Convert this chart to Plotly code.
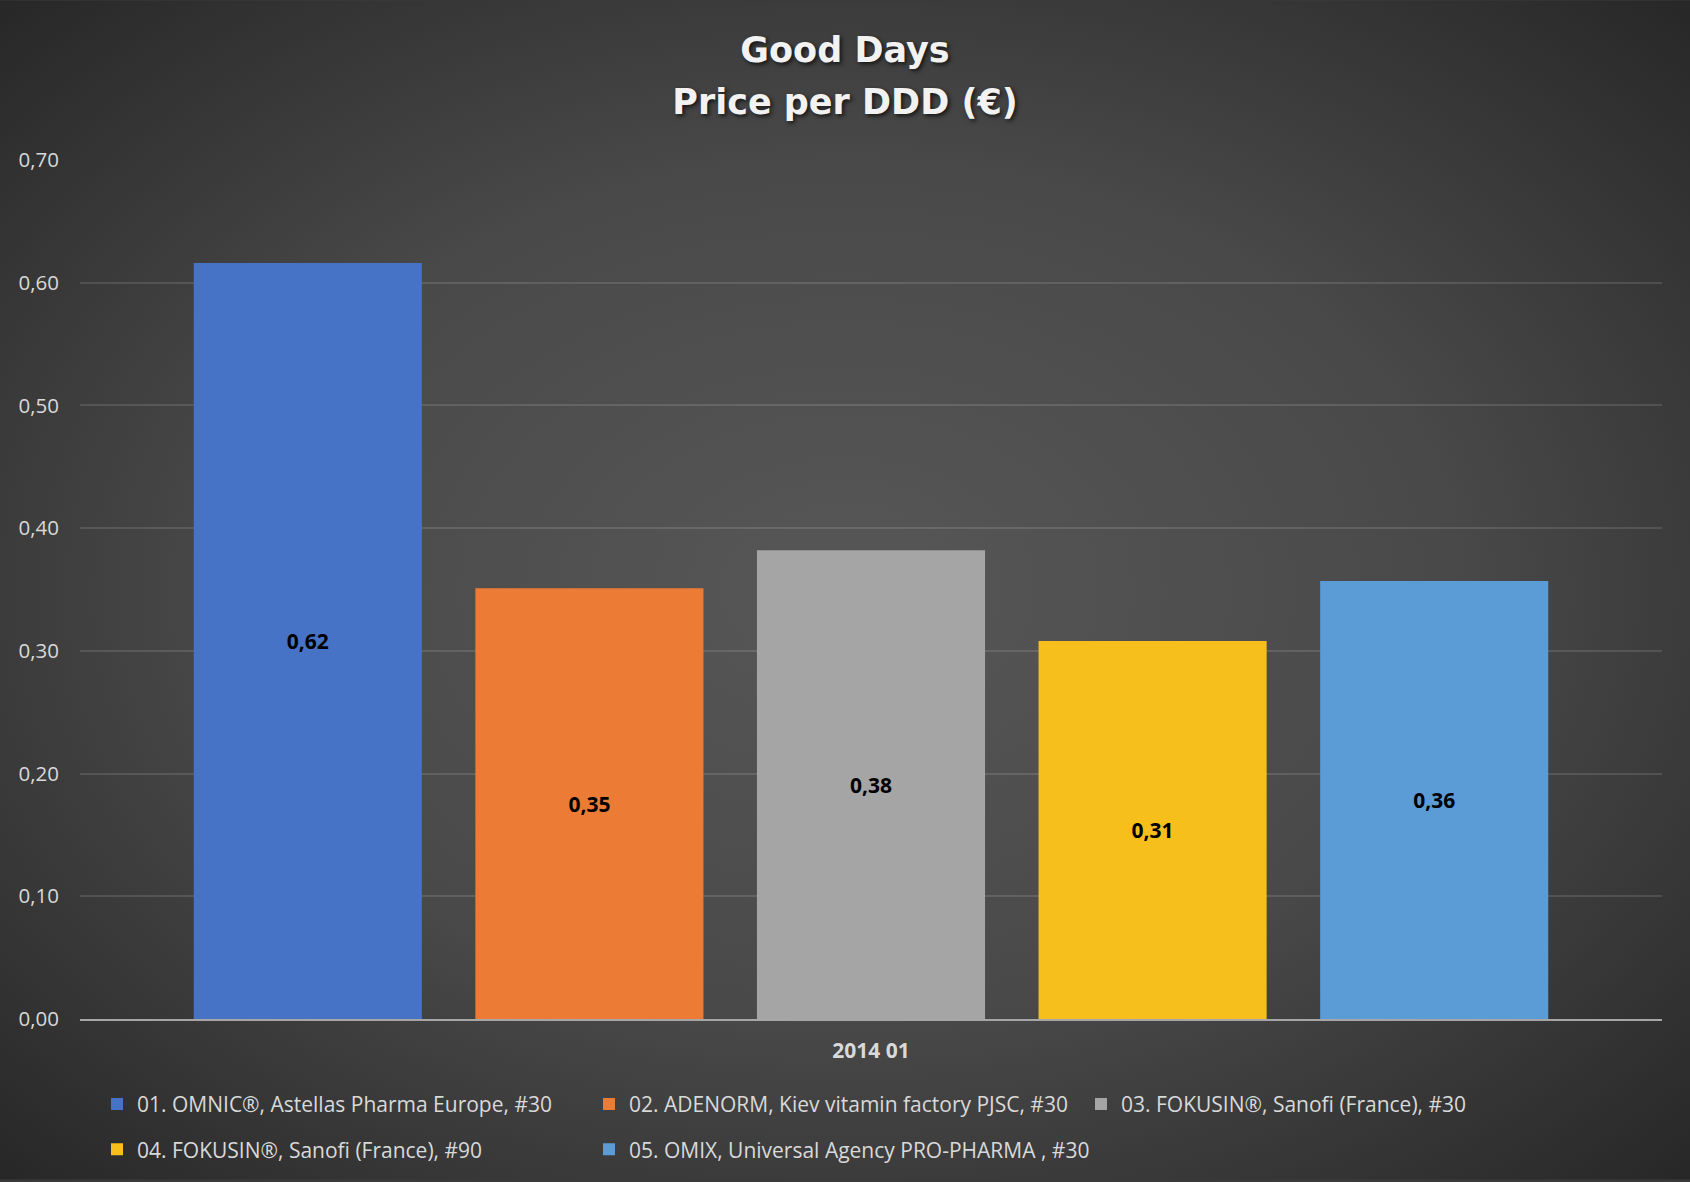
import base64
import plotly.graph_objects as go

# ---------------- data ----------------
categories = ["2014 01"]
series_names = [
    "01. OMNIC®, Astellas Pharma Europe, #30",
    "02. ADENORM, Kiev vitamin factory PJSC, #30",
    "03. FOKUSIN®, Sanofi (France), #30",
    "04. FOKUSIN®, Sanofi (France), #90",
    "05. OMIX, Universal Agency PRO-PHARMA , #30",
]
values = [0.616, 0.351, 0.382, 0.308, 0.357]
colors = ["#4673c6", "#ec7c35", "#a5a5a5", "#f7bf1c", "#5b9bd6"]
title_lines = ["Good Days", "Price per DDD (€)"]

W, H = 1690, 1182
ML, MR, MT, MB = 80, 28, 160, 161
PW, PH = W - ML - MR, H - MT - MB

# radial background
svg = (
    f"<svg xmlns='http://www.w3.org/2000/svg' width='{W}' height='{H}' "
    f"viewBox='0 0 {W} {H}' preserveAspectRatio='none'>"
    "<defs><radialGradient id='g' cx='0.5' cy='0.5' r='0.72'>"
    "<stop offset='0' stop-color='#575757'/>"
    "<stop offset='0.5' stop-color='#494949'/>"
    "<stop offset='1' stop-color='#262626'/>"
    "</radialGradient></defs>"
    f"<rect x='0' y='0' width='{W}' height='{H}' fill='url(#g)'/></svg>"
)
bg_src = "data:image/svg+xml;base64," + base64.b64encode(svg.encode()).decode()

# outer size 40 -> line spacing 52px; visible glyphs at 35px
title_text = "<br>".join(f"<span style='font-size:35px'>{t}</span>" for t in title_lines)

fig = go.Figure()
for i, (name, v, c) in enumerate(zip(series_names, values, colors)):
    fig.add_trace(go.Bar(
        x=categories, y=[v], name=name,
        marker=dict(color=c, line=dict(width=0)),
        texttemplate="%{y:.2f}", textposition="inside", insidetextanchor="middle",
        textfont=dict(family="Open Sans", size=21, color="#000000", weight="bold"),
        legendgroup=f"g{i}",
    ))

fig.update_layout(
    width=W, height=H,
    margin=dict(l=ML, r=MR, t=MT, b=MB),
    separators=",.",
    paper_bgcolor="#3a3a3a",
    plot_bgcolor="rgba(0,0,0,0)",
    barmode="group", bargap=0.11, bargroupgap=0.19,
    title=dict(
        text=title_text,
        font=dict(family="DejaVu Sans", size=40, color="#f2f2f2", weight="bold",
                  shadow="2px 2px 4px rgba(0,0,0,0.7)"),
        x=0.5, xref="container", xanchor="center",
        y=1 - 62 / H, yref="container", yanchor="middle",
    ),
    images=[dict(
        source=bg_src, xref="paper", yref="paper",
        x=-ML / PW, y=1 + MT / PH, sizex=W / PW, sizey=H / PH,
        xanchor="left", yanchor="top", sizing="stretch", layer="below",
    )],
    yaxis=dict(
        range=[0, 0.7], dtick=0.1, tickformat=".2f",
        showgrid=True, gridcolor="rgba(255,255,255,0.12)", gridwidth=1.5,
        zeroline=False, showline=False, ticks="",
        tickfont=dict(family="Open Sans", size=20.5, color="#d9d9d9"),
        ticklabelstandoff=20,
    ),
    xaxis=dict(
        showline=True, linecolor="#a6a6a6", linewidth=2, ticks="",
        tickfont=dict(family="Open Sans", size=21, color="#d9d9d9", weight="bold"),
        ticklabelstandoff=12,
    ),
    legend=dict(
        orientation="h", x=17 / PW, xanchor="left",
        y=(MT + PH - 1086) / PH, yanchor="top",
        font=dict(family="Open Sans", size=21, color="#d9d9d9"),
        traceorder="grouped", tracegroupgap=15,
        entrywidth=447, entrywidthmode="pixels",
        bgcolor="rgba(0,0,0,0)",
    ),
    showlegend=True,
)

fig.write_html("out.html")
